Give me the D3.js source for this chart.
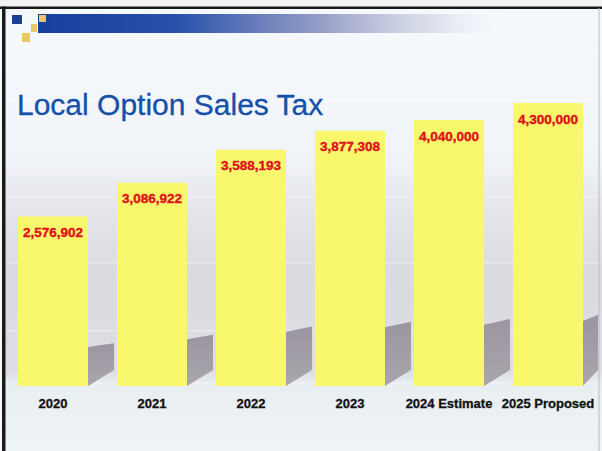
<!DOCTYPE html>
<html>
<head>
<meta charset="utf-8">
<script src="https://cdn.jsdelivr.net/npm/d3@7"></script>
<style>
html,body{margin:0;padding:0;background:#f7f8f8;}
svg{display:block;}
</style>
</head>
<body>
<svg id="chart" width="602" height="451"></svg>
<script>
const title = "Local Option Sales Tax";
const categories = ["2020", "2021", "2022", "2023", "2024 Estimate", "2025 Proposed"];
const values = [2576902, 3086922, 3588193, 3877308, 4040000, 4300000];
const valueLabels = ["2,576,902", "3,086,922", "3,588,193", "3,877,308", "4,040,000", "4,300,000"];

const W = 602, H = 451;
const svg = d3.select("#chart");
const defs = svg.append("defs");

// background gradient
const bg = defs.append("linearGradient").attr("id","bg").attr("x1",0).attr("y1",0).attr("x2",0).attr("y2",1);
[[0,"#f6f9fc"],[0.33,"#f1f4f8"],[0.45,"#e4e6ec"],[0.6,"#d9dbe1"],[0.82,"#dcdee3"],[0.85,"#e9eef1"],[1,"#eef3f5"]]
  .forEach(([o,c])=>bg.append("stop").attr("offset",o).attr("stop-color",c));

const hdr = defs.append("linearGradient").attr("id","hdr").attr("x1",0).attr("y1",0).attr("x2",1).attr("y2",0);
[[0,"#173f9c",1],[0.3,"#2a52aa",1],[0.6,"#8a92c0",0.9],[0.85,"#cfd3e4",0.6],[1,"#eef0f6",0]]
  .forEach(([o,c,a])=>hdr.append("stop").attr("offset",o).attr("stop-color",c).attr("stop-opacity",a));

const sh = defs.append("linearGradient").attr("id","sh").attr("x1",0).attr("y1",0).attr("x2",0).attr("y2",1);
[[0,"#9a95a0"],[1,"#aaa6ad"]].forEach(([o,c])=>sh.append("stop").attr("offset",o).attr("stop-color",c));

// top strip (outside border)
svg.append("rect").attr("x",0).attr("y",0).attr("width",W).attr("height",8).attr("fill","#f3f3f3");
svg.append("rect").attr("x",5).attr("y",8).attr("width",W-5).attr("height",H-8).attr("fill","url(#bg)");

// faint horizontal streaks
[55, 100, 172, 196, 262, 330, 382, 420].forEach(y=>{
  svg.append("rect").attr("x",5).attr("y",y).attr("width",W-8).attr("height",1.5)
    .attr("fill","#ffffff").attr("opacity",0.35);
});

// header decoration
svg.append("rect").attr("x",38).attr("y",14).attr("width",470).attr("height",19).attr("fill","url(#hdr)");
svg.append("rect").attr("x",12).attr("y",15).attr("width",10).attr("height",9).attr("fill","#1c3f94");
svg.append("rect").attr("x",39).attr("y",15).attr("width",7).attr("height",7).attr("fill","#e8c860");
svg.append("rect").attr("x",31).attr("y",24).attr("width",6).attr("height",8).attr("fill","#e8c860");
svg.append("rect").attr("x",22).attr("y",33).attr("width",8).attr("height",9).attr("fill","#e8c860");

// borders
svg.append("rect").attr("x",0).attr("y",6.5).attr("width",W).attr("height",2.5).attr("fill","#1a1a1a");
svg.append("rect").attr("x",2).attr("y",6.5).attr("width",3.5).attr("height",H-6.5).attr("fill","#1a1a1a");
svg.append("rect").attr("x",598.5).attr("y",8).attr("width",1).attr("height",H-8).attr("fill","#b8bcc0");

// title
svg.append("text").attr("x",17).attr("y",115)
  .attr("font-family","'Liberation Sans', Arial, sans-serif").attr("font-size",30)
  .attr("fill","#1550a9").attr("stroke","#1550a9").attr("stroke-width",0.3).text(title);

// scales
const x = d3.scaleBand().domain(categories).range([3.5, 597.5]).paddingInner(0.293).paddingOuter(0.1465);
const y = d3.scaleLinear().domain([0, 4300000]).range([386, 103]);
const data = categories.map((c,i)=>({c, v:values[i], label:valueLabels[i]}));

// shadows
const shW = 26;
svg.append("g").selectAll("path").data(data).join("path")
  .attr("d", d=>{
    const xr = x(d.c) + x.bandwidth();
    const h = y(0) - y(d.v);
    const tl = y(d.v*0.23);
    const rise = h*0.022;
    const p = d3.path();
    p.moveTo(xr, y(0));
    p.lineTo(xr, tl);
    p.lineTo(Math.min(xr+shW, 598), tl - rise);
    p.lineTo(Math.min(xr+shW, 598), y(0) - 16);
    p.closePath();
    return p.toString();
  })
  .attr("fill","url(#sh)");

// bars
svg.append("g").selectAll("rect").data(data).join("rect")
  .attr("x", d=>x(d.c)).attr("y", d=>y(d.v))
  .attr("width", x.bandwidth()).attr("height", d=>y(0)-y(d.v))
  .attr("fill","#f9f86c");

// value labels
svg.append("g").selectAll("text").data(data).join("text")
  .attr("x", d=>x(d.c)+x.bandwidth()/2).attr("y", d=>y(d.v)+20.5)
  .attr("text-anchor","middle")
  .attr("font-family","'Liberation Sans', Arial, sans-serif").attr("font-weight","bold")
  .attr("font-size",13.5).attr("fill","#dc121c").attr("stroke","#dc121c").attr("stroke-width",0.4)
  .text(d=>d.label);

// category axis
const ax = svg.append("g").attr("transform","translate(0,386)")
  .call(d3.axisBottom(x).tickSize(0).tickPadding(13));
ax.select(".domain").remove();
ax.selectAll("text")
  .attr("font-family","'Liberation Sans', Arial, sans-serif").attr("font-weight","bold")
  .attr("font-size",13).attr("fill","#111").attr("stroke","#111").attr("stroke-width",0.3);
</script>
</body>
</html>
